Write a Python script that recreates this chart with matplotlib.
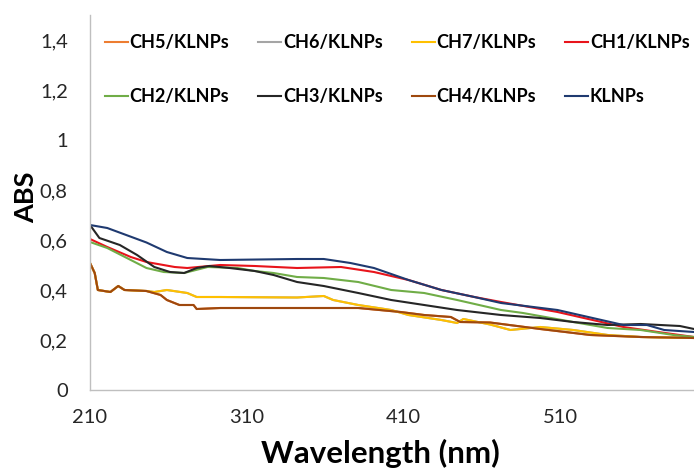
import matplotlib.pyplot as plt

plt.rcParams['font.family'] = ['Lato', 'DejaVu Sans']

# ----------------------------
# data
# ----------------------------
wl_ch1 = [210, 221, 236, 246, 264, 272, 293, 315, 342, 370, 391, 413, 434, 455, 472, 508, 550, 572, 595]
ch1 = [0.604, 0.572, 0.532, 0.512, 0.492, 0.488, 0.500, 0.496, 0.488, 0.492, 0.472, 0.440, 0.400, 0.372, 0.352, 0.312, 0.252, 0.232, 0.212]

wl_ch2 = [210, 221, 236, 246, 257, 270, 285, 304, 315, 327, 342, 359, 381, 402, 423, 444, 472, 486, 518, 540, 561, 582, 595]
ch2 = [0.592, 0.568, 0.520, 0.488, 0.472, 0.468, 0.492, 0.488, 0.476, 0.468, 0.452, 0.448, 0.432, 0.400, 0.388, 0.360, 0.320, 0.308, 0.272, 0.248, 0.240, 0.220, 0.212]

wl_ch3 = [210, 216, 229, 240, 251, 261, 270, 278, 286, 299, 315, 327, 342, 359, 381, 402, 423, 444, 472, 497, 518, 540, 561, 586, 595]
ch3 = [0.660, 0.608, 0.580, 0.540, 0.492, 0.472, 0.468, 0.488, 0.496, 0.488, 0.476, 0.460, 0.432, 0.416, 0.388, 0.360, 0.340, 0.320, 0.300, 0.288, 0.272, 0.260, 0.264, 0.256, 0.244]

wl_ch4 = [210, 213, 215, 223, 228, 232, 246, 255, 259, 267, 276, 278, 293, 342, 381, 408, 423, 440, 446, 465, 497, 529, 561, 595]
ch4 = [0.508, 0.468, 0.400, 0.392, 0.416, 0.400, 0.396, 0.380, 0.360, 0.340, 0.340, 0.324, 0.328, 0.328, 0.328, 0.312, 0.300, 0.292, 0.272, 0.270, 0.244, 0.220, 0.212, 0.208]

wl_ch7 = [210, 213, 215, 223, 228, 232, 246, 251, 259, 272, 278, 293, 342, 359, 365, 381, 402, 413, 434, 444, 448, 465, 478, 497, 518, 540, 561, 595]
ch7 = [0.508, 0.468, 0.400, 0.392, 0.416, 0.400, 0.396, 0.392, 0.400, 0.388, 0.372, 0.372, 0.370, 0.376, 0.360, 0.340, 0.320, 0.300, 0.280, 0.268, 0.284, 0.262, 0.240, 0.252, 0.240, 0.220, 0.212, 0.208]

# CH5 / CH6 sit under CH4 / CH7 in the picture
wl_ch5 = list(wl_ch4)
ch5 = list(ch4)
wl_ch6 = list(wl_ch7)
ch6 = list(ch7)

wl_kl = [210, 221, 246, 259, 272, 293, 342, 359, 376, 391, 413, 434, 455, 472, 508, 536, 550, 565, 576, 595]
klnps = [0.660, 0.648, 0.590, 0.552, 0.528, 0.520, 0.524, 0.524, 0.508, 0.488, 0.440, 0.400, 0.372, 0.348, 0.320, 0.280, 0.260, 0.260, 0.240, 0.232]

series = [
    ("CH5/KLNPs", wl_ch5, ch5, "#ED7D31"),
    ("CH6/KLNPs", wl_ch6, ch6, "#A5A5A5"),
    ("CH7/KLNPs", wl_ch7, ch7, "#FFC000"),
    ("CH1/KLNPs", wl_ch1, ch1, "#E8141B"),
    ("CH2/KLNPs", wl_ch2, ch2, "#70AD47"),
    ("CH3/KLNPs", wl_ch3, ch3, "#262626"),
    ("CH4/KLNPs", wl_ch4, ch4, "#9E480E"),
    ("KLNPs", wl_kl, klnps, "#1F3A70"),
]

x_ticks = [210, 310, 410, 510]
y_ticks = [0, 0.2, 0.4, 0.6, 0.8, 1.0, 1.2, 1.4]

# ----------------------------
# plot
# ----------------------------
fig = plt.figure(figsize=(6.94, 4.70), dpi=100)
ax = fig.add_axes([90 / 694, 80 / 470, 604 / 694, 375 / 470])

handles = {}
for name, xs, ys, col in series:
    line, = ax.plot(xs, ys, color=col, lw=1.5, label=name)
    handles[name] = line

ax.set_xlim(210, 595)
ax.set_ylim(0, 1.5)
ax.set_xticks(x_ticks)
ax.set_yticks(y_ticks)
ax.set_yticklabels([("%g" % v).replace(".", ",") for v in y_ticks])
ax.tick_params(length=0, labelsize=14.5, colors="#262626")
ax.tick_params(axis="y", pad=16)
ax.tick_params(axis="x", pad=14)

for s in ["top", "right"]:
    ax.spines[s].set_visible(False)
for s in ["left", "bottom"]:
    ax.spines[s].set_color("#BFBFBF")
    ax.spines[s].set_linewidth(1.0)

ax.set_xlabel("Wavelength (nm)", fontsize=22.5, fontweight="bold", va="center")
ax.xaxis.set_label_coords(0.48, -0.168)
ax.set_ylabel("ABS", fontsize=19.5, fontweight="bold", va="center")
ax.yaxis.set_label_coords(-0.106, 0.515)

# legend: 2 rows x 4 cols, filled column-wise
order = ["CH5/KLNPs", "CH2/KLNPs", "CH6/KLNPs", "CH3/KLNPs",
         "CH7/KLNPs", "CH4/KLNPs", "CH1/KLNPs", "KLNPs"]
ax.legend([handles[k] for k in order], order, ncol=4,
          loc="upper left", bbox_to_anchor=(105 / 694, 1 - 34 / 470),
          bbox_transform=fig.transFigure, frameon=False,
          prop={"weight": "bold", "size": 13},
          handlelength=1.27, handletextpad=0.1, columnspacing=1.6,
          labelspacing=2.07, borderpad=0, borderaxespad=0)

plt.savefig("out.png", dpi=100)
